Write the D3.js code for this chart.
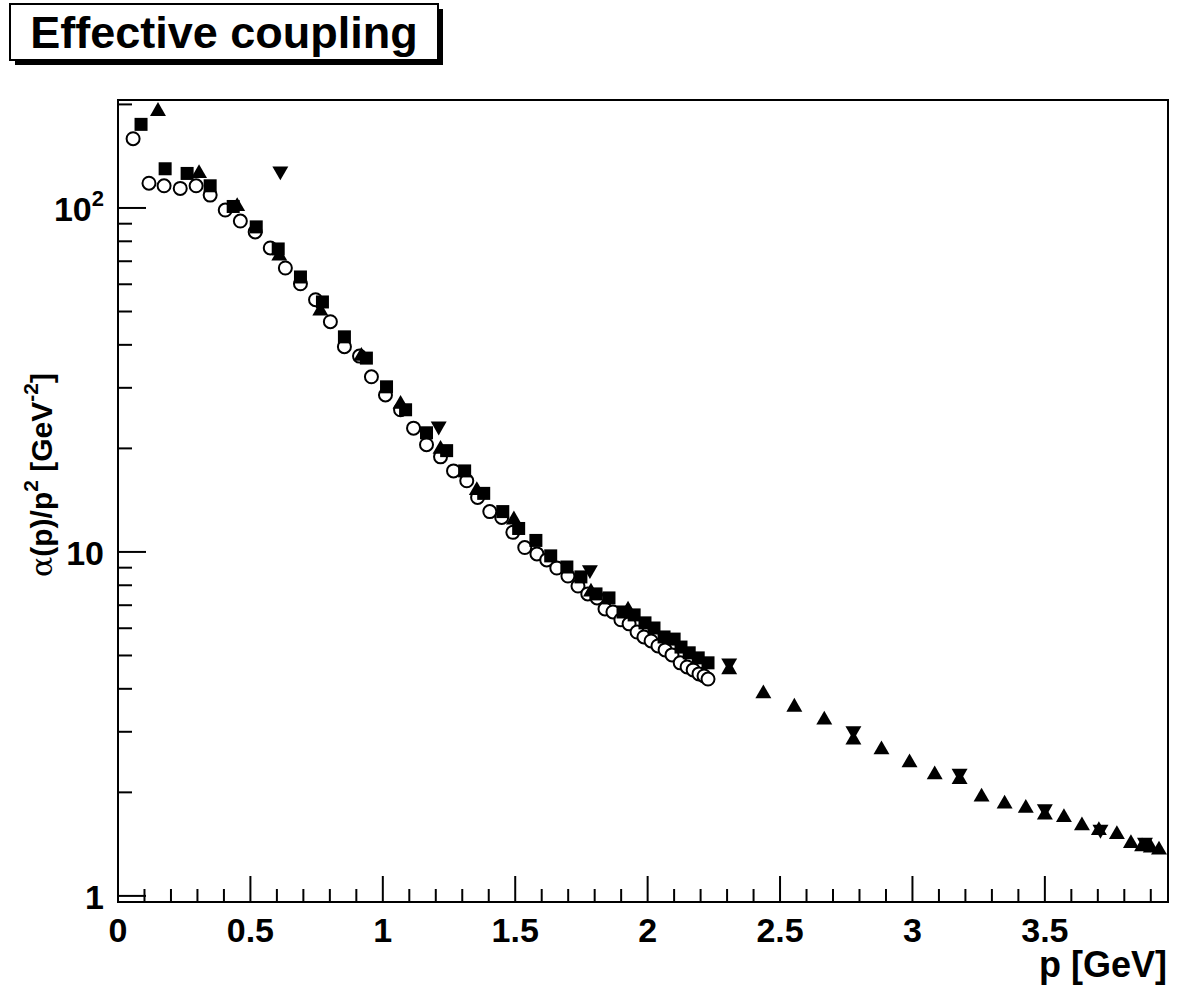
<!DOCTYPE html>
<html>
<head>
<meta charset="utf-8">
<script src="https://cdn.jsdelivr.net/npm/d3@7"></script>
<style>
  body { margin: 0; background: #fff; }
  text { font-family: "Liberation Sans", Arial, sans-serif; font-weight: bold; }
</style>
</head>
<body>
<script>
// data: [p, alpha/p^2]
const circles = [
  [0.057, 159], [0.117, 118], [0.174, 116], [0.235, 114], [0.295, 116], [0.348, 109],
  [0.405, 98.6], [0.462, 91.6], [0.518, 85.2], [0.575, 76.5], [0.632, 66.9], [0.689, 60.2],
  [0.746, 54.1], [0.802, 46.7], [0.855, 39.5], [0.912, 37.1], [0.957, 32.3], [1.010, 28.6],
  [1.067, 25.9], [1.116, 22.9], [1.165, 20.5], [1.218, 18.9], [1.267, 17.2], [1.317, 16.1],
  [1.358, 14.4], [1.404, 13.1], [1.449, 12.6], [1.491, 11.4], [1.536, 10.3], [1.582, 9.87],
  [1.619, 9.48], [1.657, 8.98], [1.699, 8.51], [1.737, 7.96], [1.774, 7.55], [1.809, 7.35],
  [1.839, 6.83], [1.869, 6.69], [1.899, 6.35], [1.930, 6.18], [1.960, 5.85], [1.986, 5.66],
  [2.013, 5.51], [2.039, 5.33], [2.066, 5.19], [2.092, 5.02], [2.123, 4.76], [2.149, 4.63],
  [2.172, 4.54], [2.194, 4.42], [2.213, 4.36], [2.228, 4.27]
]
const squares = [
  [0.087, 175], [0.178, 130], [0.261, 126], [0.348, 116], [0.435, 101], [0.522, 88.1],
  [0.605, 76.0], [0.689, 63.0], [0.772, 53.3], [0.855, 42.2], [0.938, 36.6], [1.014, 30.2],
  [1.086, 25.9], [1.165, 22.2], [1.241, 19.7], [1.309, 17.2], [1.381, 14.8], [1.453, 13.1],
  [1.513, 11.7], [1.578, 10.8], [1.634, 9.74], [1.695, 9.04], [1.748, 8.46], [1.805, 7.55],
  [1.854, 7.35], [1.907, 6.69], [1.949, 6.56], [1.990, 6.22], [2.024, 6.01], [2.062, 5.66],
  [2.100, 5.58], [2.126, 5.29], [2.157, 5.09], [2.191, 4.92], [2.228, 4.76]
]
const trianglesUp = [
  [0.151, 191], [0.306, 126], [0.450, 101], [0.609, 72.5], [0.764, 50.2], [0.919, 37.1],
  [1.067, 26.9], [1.218, 19.9], [1.355, 15.1], [1.495, 12.4], [1.786, 7.65], [1.926, 6.78],
  [2.308, 4.55], [2.437, 3.87], [2.554, 3.54], [2.667, 3.25], [2.777, 2.84], [2.883, 2.66],
  [2.989, 2.44], [3.084, 2.25], [3.178, 2.18], [3.261, 1.94], [3.348, 1.85], [3.428, 1.80],
  [3.500, 1.72], [3.572, 1.69], [3.640, 1.60], [3.704, 1.55], [3.772, 1.51], [3.825, 1.42],
  [3.867, 1.39], [3.900, 1.38], [3.931, 1.36]
]
const trianglesDown = [
  [0.613, 128], [1.211, 23.2], [1.782, 8.87], [2.308, 4.75], [2.777, 3.02], [3.178, 2.27],
  [3.500, 1.79], [3.710, 1.56], [3.878, 1.43]
]
const xTicks = [0, 0.5, 1, 1.5, 2, 2.5, 3, 3.5]

const W = 1181, H = 1004
const margin = {top: 100, right: 13, bottom: 102, left: 118}

const svg = d3.select("body").append("svg").attr("width", W).attr("height", H)

const x = d3.scaleLinear().domain([0, 3.965]).range([margin.left, W - margin.right])
const y = d3.scaleLog().domain([0.96, 206]).range([H - margin.bottom, margin.top])

const g = svg.append("g")

// frame
g.append("rect")
  .attr("x", margin.left).attr("y", margin.top)
  .attr("width", W - margin.left - margin.right)
  .attr("height", H - margin.top - margin.bottom)
  .attr("fill", "none").attr("stroke", "#000").attr("stroke-width", 2)

// x ticks
const xMinor = d3.range(0, 3.96, 0.1)
g.selectAll(".xt").data(xMinor).enter().append("line")
  .attr("x1", d => x(d)).attr("x2", d => x(d))
  .attr("y1", y(0.96)).attr("y2", (d, i) => y(0.96) - (i % 5 === 0 ? 26 : 13))
  .attr("stroke", "#000").attr("stroke-width", 2)
g.selectAll(".xl").data(xTicks).enter().append("text")
  .attr("x", d => x(d)).attr("y", 942)
  .attr("text-anchor", "middle").attr("font-size", 34)
  .text(d => d)

// y ticks
const yMinor = []
for (let dec of [1, 10, 100]) for (let k = 1; k < 10; k++) if (dec * k <= 206) yMinor.push(dec * k)
g.selectAll(".yt").data(yMinor).enter().append("line")
  .attr("y1", d => y(d)).attr("y2", d => y(d))
  .attr("x1", margin.left)
  .attr("x2", d => margin.left + ([1, 10, 100].includes(d) ? 28 : 14))
  .attr("stroke", "#000").attr("stroke-width", 2)
const yl = g.selectAll(".yl").data([1, 10, 100]).enter().append("text")
  .attr("x", 104).attr("y", d => y(d) + 13)
  .attr("text-anchor", "end").attr("font-size", 34)
yl.filter(d => d < 100).text(d => d)
yl.filter(d => d === 100).each(function () {
  const t = d3.select(this)
  t.append("tspan").text("10")
  t.append("tspan").attr("font-size", 22).attr("dy", -15).text("2")
})

// axis titles
svg.append("text").attr("x", 1167).attr("y", 977).attr("text-anchor", "end")
  .attr("font-size", 36).text("p [GeV]")
const yt = svg.append("text").attr("transform", "translate(52,373) rotate(-90)")
  .attr("text-anchor", "end").attr("font-size", 30)
yt.append("tspan").attr("font-family", "DejaVu Serif, serif").attr("font-weight", "normal").text("α")
yt.append("tspan").text("(p)/p")
yt.append("tspan").attr("font-size", 21).attr("dy", -14).text("2")
yt.append("tspan").attr("dy", 14).text(" [GeV")
yt.append("tspan").attr("font-size", 21).attr("dy", -14).text("-2")
yt.append("tspan").attr("dy", 14).text("]")

// title box
svg.append("rect").attr("x", 15).attr("y", 9).attr("width", 428).attr("height", 56).attr("fill", "#000")
svg.append("rect").attr("x", 10).attr("y", 4).attr("width", 428).attr("height", 56)
  .attr("fill", "#fff").attr("stroke", "#000").attr("stroke-width", 2)
svg.append("text").attr("x", 224).attr("y", 48).attr("text-anchor", "middle")
  .attr("font-size", 45).text("Effective coupling")

// markers
const pts = g.append("g")
pts.selectAll(".c").data(circles).enter().append("circle")
  .attr("cx", d => x(d[0])).attr("cy", d => y(d[1])).attr("r", 6.5)
  .attr("fill", "#fff").attr("stroke", "#000").attr("stroke-width", 2)
pts.selectAll(".s").data(squares).enter().append("rect")
  .attr("x", d => x(d[0]) - 6.5).attr("y", d => y(d[1]) - 6.5)
  .attr("width", 13).attr("height", 13).attr("fill", "#000")
const tri = d3.symbol().type(d3.symbolTriangle).size(110)
pts.selectAll(".tu").data(trianglesUp).enter().append("path")
  .attr("d", tri).attr("transform", d => `translate(${x(d[0])},${y(d[1])})`)
pts.selectAll(".td").data(trianglesDown).enter().append("path")
  .attr("d", tri).attr("transform", d => `translate(${x(d[0])},${y(d[1])}) rotate(180)`)
</script>
</body>
</html>
